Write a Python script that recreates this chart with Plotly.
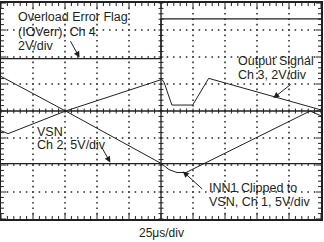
import plotly.graph_objects as go

# ---- data (oscilloscope divisions: x 0..10, y -4..4) ----
t_flag = [0, 5.0, 5.0, 10]
v_flag = [1.94, 1.94, 3.41, 3.41]

t_out = [0, 2.02, 5.03, 5.1, 5.34, 5.99, 6.49, 10]
v_out = [1.28, 0, 1.17, 1.05, 0.22, 0.22, 1.21, 0.04]

t_inn = [0, 0.22, 2.02, 5.0, 5.25, 5.5, 5.78, 9.66, 10]
v_inn = [-0.73, -0.84, 0, -1.94, -2.17, -2.28, -2.28, 0, -0.18]

t_vsn = [0, 10]
v_vsn = [-1.95, -1.95]

x_title = "25μs/div"

W, H = 324, 242
ML, MR, MT, MB = 1, 1, 1, 23
pw = W - ML - MR
ph = H - MT - MB
px_x = pw / 10.0   # px per x-division
px_y = ph / 8.0    # px per y-division

INK = "#231f20"
fig = go.Figure()

# dotted graticule (decoration)
gx, gy = [], []
for k in [1, 2, 3, 4, 6, 7, 8, 9]:
    for j in range(1, 40):
        gx.append(k); gy.append(-4 + j * 0.2)
for k in [-3, -2, -1, 1, 2, 3]:
    for i in range(1, 50):
        gx.append(i * 0.2); gy.append(k)
fig.add_trace(go.Scatter(x=gx, y=gy, mode="markers",
                         marker=dict(symbol="square", size=1.6, color="#333",
                                     line=dict(width=0)),
                         hoverinfo="skip"))

# graticule tick marks (decoration)
tx, ty = [], []
for i in range(0, 51):
    x = i * 0.2
    major = (i % 5 == 0)
    L = (5 if major else 3) / px_y
    tx += [x, x, None, x, x, None]
    ty += [4, 4 - L, None, -4, -4 + L, None]
    c = 2.5 / px_y
    tx += [x, x, None]
    ty += [-c, c, None]
for j in range(0, 41):
    y = -4 + j * 0.2
    major = (j % 5 == 0)
    L = (5 if major else 3) / px_x
    tx += [0, L, None, 10, 10 - L, None]
    ty += [y, y, None, y, y, None]
    c = 2.5 / px_x
    tx += [5 - c, 5 + c, None]
    ty += [y, y, None]
fig.add_trace(go.Scatter(x=tx, y=ty, mode="lines",
                         line=dict(color=INK, width=1), hoverinfo="skip"))

# center lines
fig.add_trace(go.Scatter(x=[0, 10, None, 5, 5], y=[0, 0, None, -4, 4], mode="lines",
                         line=dict(color=INK, width=1.3), hoverinfo="skip"))

# traces
for tt, vv, w in [(t_flag, v_flag, 1.3), (t_vsn, v_vsn, 1.3),
                  (t_out, v_out, 1), (t_inn, v_inn, 1)]:
    fig.add_trace(go.Scatter(x=tt, y=vv, mode="lines",
                             line=dict(color=INK, width=w), hoverinfo="skip"))

def dx(p):
    return (p - ML) / px_x

def dy(p):
    return (MT + ph / 2 - p) / px_y

font = dict(family="Liberation Sans, Arial, Helvetica, sans-serif", size=12.5, color=INK)
labels = [
    ("Overload Error Flag", 17, 15),
    ("(IOVerr), Ch 4", 17, 30),
    ("2V/div", 17, 44),
    ("Output Signal", 238, 60),
    ("Ch 3, 2V/div", 238, 74),
    ("VSN", 36, 131),
    ("Ch 2, 5V/div", 36, 144),
    ("INN1 Clipped to", 209, 188),
    ("VSN, Ch 1, 5V/div", 209, 202),
]
for txt, lx, ly in labels:
    fig.add_annotation(x=dx(lx), y=dy(ly), xref="x", yref="y", text=txt,
                       showarrow=False, xanchor="left", yanchor="middle",
                       font=font, borderpad=0)

arrows = [
    ((70, 38), (80, 56)),
    ((294, 82), (275, 97)),
    ((102, 146), (111, 162)),
    ((205, 190), (184, 171)),
]
for (tx0, ty0), (hx, hy) in arrows:
    fig.add_annotation(x=dx(hx), y=dy(hy), ax=dx(tx0), ay=dy(ty0),
                       xref="x", yref="y", axref="x", ayref="y", text="",
                       showarrow=True, arrowhead=2, arrowsize=1.2, arrowwidth=1,
                       arrowcolor=INK, standoff=0)

fig.add_annotation(x=0.5, y=0, xref="paper", yref="paper", text=x_title,
                   showarrow=False, xanchor="center", yanchor="top", yshift=-5,
                   font=dict(family="Liberation Sans, Arial, Helvetica, sans-serif",
                             size=12, color=INK))

ax = dict(showgrid=False, zeroline=False, showticklabels=False,
          ticks="", showline=True, linecolor=INK, linewidth=1.5, mirror=True,
          fixedrange=True)
fig.update_xaxes(range=[0, 10], **ax)
fig.update_yaxes(range=[-4, 4], **ax)

fig.update_layout(width=W, height=H, margin=dict(l=ML, r=MR, t=MT, b=MB),
                  paper_bgcolor="white", plot_bgcolor="white", showlegend=False)

fig.write_html("out.html")
